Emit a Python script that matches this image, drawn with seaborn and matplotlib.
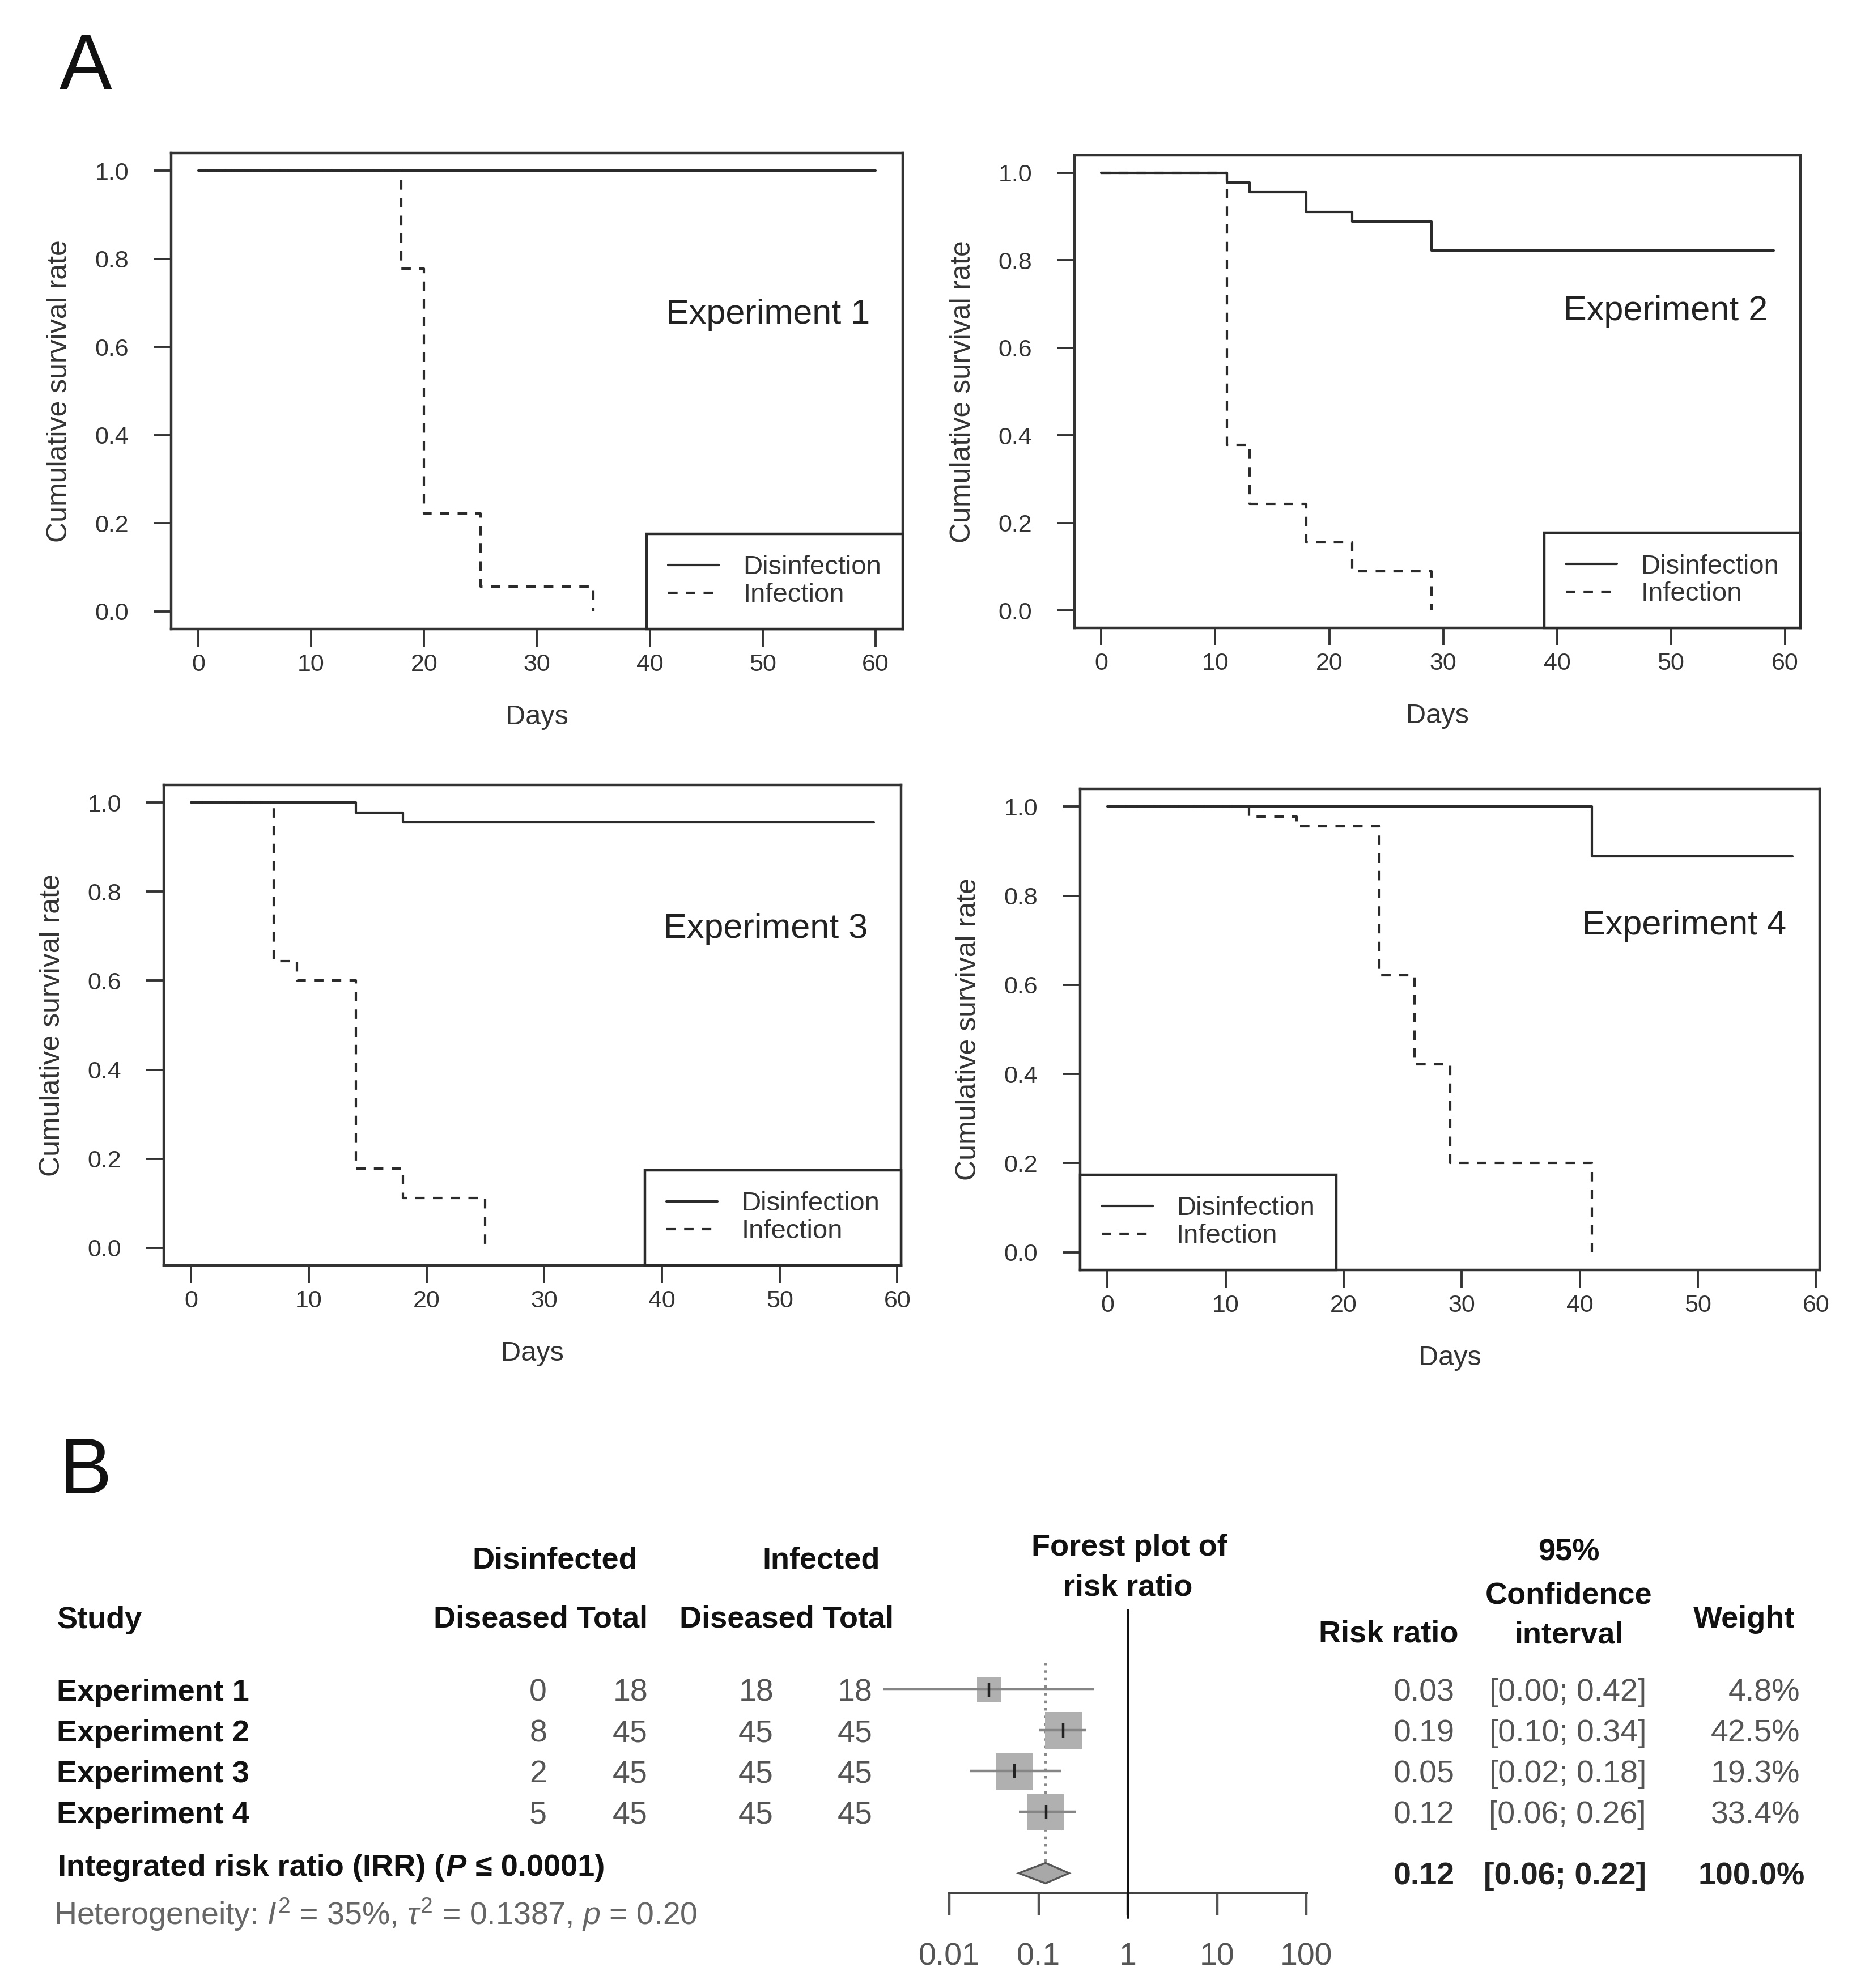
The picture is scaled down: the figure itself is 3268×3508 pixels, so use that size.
import numpy as np
import pandas as pd
import matplotlib
matplotlib.use('Agg')
import matplotlib.pyplot as plt
import seaborn as sns

# survival curves (step points: day, cumulative survival)
experiments = ['Experiment 1', 'Experiment 2', 'Experiment 3', 'Experiment 4']
groups = ['Disinfection', 'Infection']

dis_days = [[0, 60], [0, 11, 13, 18, 22, 29, 59], [0, 14, 18, 58], [0, 41, 58]]
dis_surv = [[1.0, 1.0],
            [1.0, 0.978, 0.956, 0.911, 0.889, 0.822, 0.822],
            [1.0, 0.978, 0.956, 0.956],
            [1.0, 0.889, 0.889]]
inf_days = [[0, 18, 20, 25, 35], [0, 11, 13, 18, 22, 29], [0, 7, 9, 14, 18, 25],
            [0, 12, 16, 23, 26, 29, 41]]
inf_surv = [[1.0, 0.778, 0.222, 0.056, 0.0],
            [1.0, 0.378, 0.244, 0.156, 0.089, 0.0],
            [1.0, 0.644, 0.600, 0.178, 0.111, 0.0],
            [1.0, 0.978, 0.956, 0.622, 0.422, 0.200, 0.0]]

# forest plot table (panel B)
dis_diseased = [0, 8, 2, 5]
dis_total = [18, 45, 45, 45]
inf_diseased = [18, 45, 45, 45]
inf_total = [18, 45, 45, 45]
rr = [0.028, 0.19, 0.054, 0.121]
rr_lo = [0.0018, 0.10, 0.017, 0.06]
rr_hi = [0.42, 0.34, 0.18, 0.26]
weight = [4.8, 42.5, 19.3, 33.4]
irr, irr_lo, irr_hi = 0.12, 0.06, 0.22
forest_ticks = [0.01, 0.1, 1, 10, 100]
forest_ticklabels = ['0.01', '0.1', '1', '10', '100']

sns.set_style('ticks')
plt.rcParams['font.family'] = ['Liberation Sans', 'DejaVu Sans']
plt.rcParams['mathtext.fontset'] = 'custom'
plt.rcParams['mathtext.rm'] = 'Liberation Sans'
plt.rcParams['mathtext.it'] = 'Liberation Sans:italic'

W, H = 3268, 3508
DPI = 200
fig = plt.figure(figsize=(W / DPI, H / DPI), dpi=DPI)
fig.patch.set_facecolor('white')


def px_axes(x0, y0, x1, y1):
    return fig.add_axes([x0 / W, 1 - y1 / H, (x1 - x0) / W, (y1 - y0) / H])


def put(x, y, s, ha='left', **kw):
    return fig.text(x / W, 1 - y / H, s, ha=ha, va='baseline', **kw)


ink = '#2b2b2b'

# ---------------- panel A ----------------
frames = [(302, 270, 1593, 1110), (1896, 274, 3177, 1108),
          (289, 1385, 1590, 2233), (1906, 1392, 3211, 2241)]
legend_loc = ['lower right', 'lower right', 'lower right', 'lower left']
label_y = [0.66, 0.67, 0.70, 0.715]

for i in range(4):
    ax = px_axes(*frames[i])
    df = pd.concat([
        pd.DataFrame({'Days': dis_days[i], 'surv': dis_surv[i], 'group': groups[0]}),
        pd.DataFrame({'Days': inf_days[i], 'surv': inf_surv[i], 'group': groups[1]}),
    ])
    sns.lineplot(data=df, x='Days', y='surv', hue='group', style='group',
                 palette=[ink, ink], dashes={'Disinfection': '', 'Infection': (4, 3.5)},
                 drawstyle='steps-post', estimator=None, sort=False, lw=1.5, ax=ax)
    sns.move_legend(ax, legend_loc[i], title=None, frameon=True, fancybox=False,
                    edgecolor=ink, framealpha=1, borderaxespad=0, fontsize=17,
                    borderpad=0.8, labelspacing=0.1, handlelength=1.9,
                    handletextpad=0.9, labelcolor='#333')
    leg = ax.get_legend()
    leg.get_frame().set_linewidth(1.6)
    for ln in leg.get_lines():
        ln.set_linewidth(1.5)

    T = max(dis_days[i][-1], inf_days[i][-1])
    ax.set_xlim(-0.04 * T, 1.04 * T)
    ax.set_ylim(-0.04, 1.04)
    ax.set_xticks(range(0, 61, 10))
    ax.set_yticks(np.arange(0, 1.01, 0.2))
    ax.yaxis.set_major_formatter(matplotlib.ticker.FormatStrFormatter('%.1f'))
    ax.tick_params(direction='out', length=11, width=1.4, color='#333',
                   labelsize=15.5, labelcolor='#333')
    ax.tick_params(axis='x', pad=4.5)
    ax.tick_params(axis='y', pad=16)
    for sp in ax.spines.values():
        sp.set_visible(True)
        sp.set_linewidth(1.6)
        sp.set_color('#333')
    ax.set_xlabel('Days', fontsize=17.5, labelpad=18, color='#333')
    ax.set_ylabel('Cumulative survival rate', fontsize=18, labelpad=14, color='#333')
    ax.text(0.955, label_y[i], experiments[i], transform=ax.transAxes,
            ha='right', va='center', fontsize=22, color='#222')

put(105, 157, 'A', fontsize=50, color='#111')
put(105, 2635, 'B', fontsize=50, color='#111')

# ---------------- panel B: forest plot ----------------
rows = np.arange(len(rr))
axf = px_axes(1675, 2841, 2305, 3340)
axf.set_xscale('log')
axf.set_xlim(0.01, 100)
axf.set_ylim(4.98, -1.94)
for side in ['left', 'top', 'right']:
    axf.spines[side].set_visible(False)
axf.spines['bottom'].set_linewidth(1.8)
axf.spines['bottom'].set_color('#444')
axf.set_yticks([])
axf.set_xticks(forest_ticks)
axf.set_xticklabels(forest_ticklabels)
axf.minorticks_off()
axf.tick_params(axis='x', direction='out', length=14.4, width=1.6, color='#555',
                labelsize=20, labelcolor='#555', pad=17)
axf.patch.set_alpha(0)

side_pt = np.minimum(7.2 * np.sqrt(weight), 23.4)
axf.scatter(rr, rows, marker='s', s=side_pt ** 2, color='#b0b0b0', lw=0,
            zorder=2, clip_on=False)
axf.hlines(rows, rr_lo, rr_hi, color='#858585', lw=1.6, zorder=3, clip_on=False)
axf.scatter(rr, rows, marker='|', s=9 ** 2, color='#222', linewidths=1.6,
            zorder=4, clip_on=False)
axf.vlines(irr, -0.65, 4.25, color='#8a8a8a', lw=1.6, ls=(0, (1, 2)), zorder=1)
axf.fill([irr_lo, irr, irr_hi, irr], [4.5, 4.25, 4.5, 4.75],
         facecolor='#a8a8a8', edgecolor='#555', lw=1.2, zorder=3)
axf.axvline(1, ymin=-43 / 499, ymax=1, color='#111', lw=1.8, clip_on=False, zorder=5)

# table text
hdr = dict(fontsize=19.5, fontweight='bold', color='#111')
put(979, 2767, 'Disinfected', ha='center', **hdr)
put(1449, 2767, 'Infected', ha='center', **hdr)
put(100, 2873, 'Study', **hdr)
put(1143, 2871, 'Diseased Total', ha='right', **hdr)
put(1577, 2871, 'Diseased Total', ha='right', **hdr)
put(1993, 2745, 'Forest plot of', ha='center', **hdr)
put(1990, 2816, 'risk ratio', ha='center', **hdr)
put(2768, 2753, '95%', ha='center', **hdr)
put(2768, 2830, 'Confidence', ha='center', **hdr)
put(2768, 2900, 'interval', ha='center', **hdr)
put(2450, 2898, 'Risk ratio', ha='center', **hdr)
put(3078, 2872, 'Weight', ha='center', **hdr)

num = dict(fontsize=20, color='#555')
for i in rows:
    yb = 2982 + 72 * i + 19
    put(100, yb, experiments[i], **hdr)
    put(965, yb, str(dis_diseased[i]), ha='right', **num)
    put(1143, yb, str(dis_total[i]), ha='right', **num)
    put(1365, yb, str(inf_diseased[i]), ha='right', **num)
    put(1540, yb, str(inf_total[i]), ha='right', **num)
    put(2567, yb, f'{rr[i]:.2f}', ha='right', **num)
    put(2905, yb, f'[{rr_lo[i]:.2f}; {rr_hi[i]:.2f}]', ha='right', **num)
    put(3176, yb, f'{weight[i]:.1f}%', ha='right', **num)

summ = dict(fontsize=20, fontweight='bold', color='#222')
put(2567, 3325, f'{irr:.2f}', ha='right', **summ)
put(2905, 3325, f'[{irr_lo:.2f}; {irr_hi:.2f}]', ha='right', **summ)
put(3185, 3325, f'{sum(weight):.1f}%', ha='right', **summ)

# summary label with italic P, pieced together
renderer = fig.canvas.get_renderer()
scale = W / (fig.dpi * fig.get_size_inches()[0])
t1 = put(102, 3310, 'Integrated risk ratio (IRR) (', **hdr)
x1 = t1.get_window_extent(renderer).x1 * scale
t2 = put(x1 + 2, 3310, 'P', fontstyle='italic', **hdr)
x2 = t2.get_window_extent(renderer).x1 * scale
put(x2 + 16, 3310, '\u2264 0.0001)', **hdr)

put(95, 3396, r'Heterogeneity: $I^2$ = 35%, $\tau^2$ = 0.1387, $p$ = 0.20',
    fontsize=20, color='#666')

fig.savefig('out.png', dpi=DPI, facecolor='white')
